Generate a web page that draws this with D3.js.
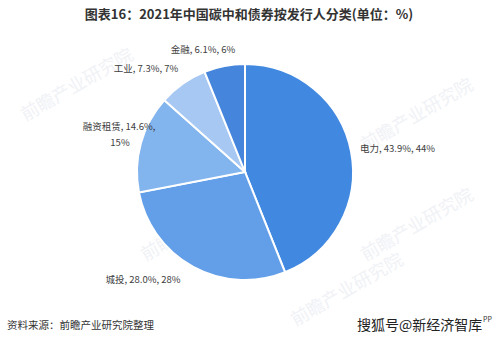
<!DOCTYPE html>
<html>
<head>
<meta charset="utf-8">
<script src="https://cdn.jsdelivr.net/npm/d3@7.9.0/dist/d3.min.js"></script>
<style>
  body { margin: 0; background: #fff; }
  svg { display: block; font-family: "Noto Sans CJK SC", "Noto Sans", sans-serif; }
</style>
</head>
<body>
<svg width="499" height="343"></svg>
<script>
const categories = ['电力', '城投', '融资租赁', '工业', '金融'];
const shares = [43.9, 28.0, 14.6, 7.3, 6.1];
const rounded = [44, 28, 15, 7, 6];
const colors = ['#4189e0', '#629fe8', '#82b4ee', '#a6c8f3', '#4585dc'];

const svg = d3.select('svg');

svg.append('text')
  .attr('x', 249).attr('y', 19)
  .attr('text-anchor', 'middle')
  .attr('font-size', 13).attr('font-weight', 'bold').attr('fill', '#333')
  .text('图表16：2021年中国碳中和债券按发行人分类(单位：%)');

// faint watermarks
const marks = [[80, 90], [420, 120], [200, 230], [420, 230], [350, 295]];
marks.forEach(([x, y]) => {
  svg.append('text')
    .attr('transform', `translate(${x},${y}) rotate(-30)`)
    .attr('text-anchor', 'middle')
    .attr('font-size', 18).attr('fill', '#f0f2f6')
    .text('前瞻产业研究院');
});

const data = categories.map((c, i) => ({ label: c, value: shares[i], r: rounded[i] }));
const pie = d3.pie().sort(null).value(d => d.value);
const arcs = pie(data);
const arc = d3.arc().innerRadius(0).outerRadius(108);

const g = svg.append('g').attr('transform', 'translate(245,172)');
g.selectAll('path')
  .data(arcs)
  .join('path')
  .attr('d', arc)
  .attr('fill', (d, i) => colors[i])
  .attr('stroke', '#fff')
  .attr('stroke-width', 2);

// label spots (offsets from centre)
const labelPos = [
  { x: 115, y: -20, anchor: 'start' },
  { x: -102, y: 111, anchor: 'middle' },
  { x: -126, y: -42, anchor: 'middle' },
  { x: -99, y: -100, anchor: 'middle' },
  { x: -42, y: -119, anchor: 'middle' }
];

arcs.forEach((d, i) => {
  const p = labelPos[i];
  const t = svg.append('text')
    .attr('font-size', 9.5).attr('fill', '#404040')
    .attr('text-anchor', p.anchor);
  const txt = `${d.data.label}, ${d.data.value.toFixed(1)}%, ${d.data.r}%`;
  if (d.data.label === '融资租赁') {
    t.append('tspan').attr('x', 245 + p.x).attr('y', 172 + p.y).text(`${d.data.label}, ${d.data.value.toFixed(1)}%,`);
    t.append('tspan').attr('x', 245 + p.x + 1).attr('y', 172 + p.y + 16).text(`${d.data.r}%`);
  } else {
    t.attr('x', 245 + p.x).attr('y', 172 + p.y).text(txt);
  }
});

svg.append('text')
  .attr('x', 7).attr('y', 329)
  .attr('font-size', 10.5).attr('fill', '#333')
  .text('资料来源：前瞻产业研究院整理');

svg.append('text')
  .attr('x', 357).attr('y', 330)
  .attr('font-size', 14).attr('fill', '#222')
  .text('搜狐号@新经济智库');
svg.append('text')
  .attr('x', 483).attr('y', 322)
  .attr('font-size', 7).attr('fill', '#333')
  .text('PP');
</script>
</body>
</html>
